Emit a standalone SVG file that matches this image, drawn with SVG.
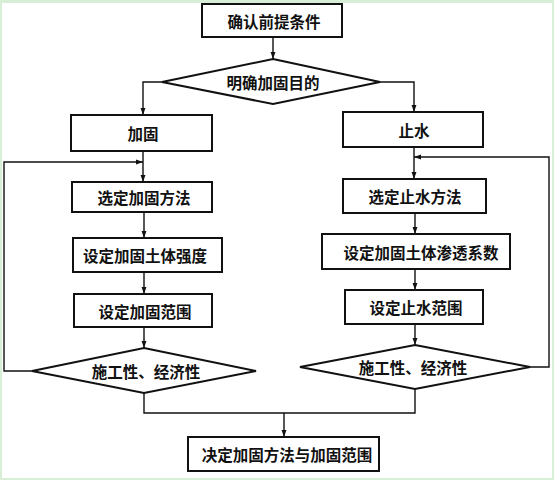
<svg xmlns="http://www.w3.org/2000/svg" width="554" height="480" viewBox="0 0 554 480">
<style>
.box{fill:#fff;stroke:#111;stroke-width:2}
.dia{fill:#fff;stroke:#111;stroke-width:2}
.t{font-family:"Noto Sans CJK SC","Noto Sans CJK TC",sans-serif;font-size:15.5px;font-weight:bold;fill:#111;text-anchor:middle;dominant-baseline:central}
.c{fill:none;stroke:#111;stroke-width:1.4}
</style>
<defs>
<marker id="ah" viewBox="0 0 10 10" refX="10" refY="5" markerWidth="7" markerHeight="7" markerUnits="userSpaceOnUse" orient="auto">
<path d="M0,1.5 L10,5 L0,8.5 Z" fill="#111"/>
</marker>
</defs>
<rect x="0" y="0" width="554" height="480" fill="#d6efd6"/>
<rect x="2" y="3" width="550" height="475" fill="#fff"/>
<g id="connectors">
<path class="c" d="M273,37 V59" marker-end="url(#ah)"/>
<path class="c" d="M162,82 H143 V115" marker-end="url(#ah)"/>
<path class="c" d="M380,82 H414 V112" marker-end="url(#ah)"/>
<path class="c" d="M143,151 V182" marker-end="url(#ah)"/>
<path class="c" d="M414,147 V179" marker-end="url(#ah)"/>
<path class="c" d="M32,371 H4 V162 H143" marker-end="url(#ah)"/>
<path class="c" d="M530,367 H549 V157 H414" marker-end="url(#ah)"/>
<path class="c" d="M144,212 V238" marker-end="url(#ah)"/>
<path class="c" d="M144,272 V294" marker-end="url(#ah)"/>
<path class="c" d="M144,327 V348" marker-end="url(#ah)"/>
<path class="c" d="M415,213 V234" marker-end="url(#ah)"/>
<path class="c" d="M415,269 V290" marker-end="url(#ah)"/>
<path class="c" d="M415,324 V345" marker-end="url(#ah)"/>
<path class="c" d="M144,393 V413 H415 V389"/>
<path class="c" d="M284,413 V437" marker-end="url(#ah)"/>
</g>
<g id="n-premise"><rect class="box" x="202" y="4" width="140" height="33"/><text class="t" x="274" y="21">确认前提条件</text></g>
<g id="n-purpose"><polygon class="dia" points="273,59 380,82 273,104 162,82"/><text class="t" x="273" y="82">明确加固目的</text></g>
<g id="n-reinforce"><rect class="box" x="71" y="115" width="141" height="36"/><text class="t" x="143" y="133">加固</text></g>
<g id="n-waterstop"><rect class="box" x="343" y="112" width="140" height="35"/><text class="t" x="414" y="130">止水</text></g>
<g id="n-sel-reinf"><rect class="box" x="72" y="182" width="140" height="30"/><text class="t" x="144" y="197">选定加固方法</text></g>
<g id="n-sel-ws"><rect class="box" x="343" y="179" width="143" height="34"/><text class="t" x="415" y="196">选定止水方法</text></g>
<g id="n-strength"><rect class="box" x="73" y="238" width="149" height="34"/><text class="t" x="145" y="255">设定加固土体强度</text></g>
<g id="n-perm"><rect class="box" x="322" y="234" width="188" height="35"/><text class="t" x="421" y="252">设定加固土体渗透系数</text></g>
<g id="n-range-reinf"><rect class="box" x="74" y="294" width="138" height="33"/><text class="t" x="145" y="311">设定加固范围</text></g>
<g id="n-range-ws"><rect class="box" x="345" y="290" width="138" height="34"/><text class="t" x="416" y="307">设定止水范围</text></g>
<g id="n-feas-l"><polygon class="dia" points="144,348 256,371 144,393 32,371"/><text class="t" x="146" y="371">施工性、经济性</text></g>
<g id="n-feas-r"><polygon class="dia" points="415,345 530,367 415,389 300,367"/><text class="t" x="413" y="367">施工性、经济性</text></g>
<g id="n-decide"><rect class="box" x="188" y="437" width="191" height="34"/><text class="t" x="287" y="454">决定加固方法与加固范围</text></g>
</svg>
